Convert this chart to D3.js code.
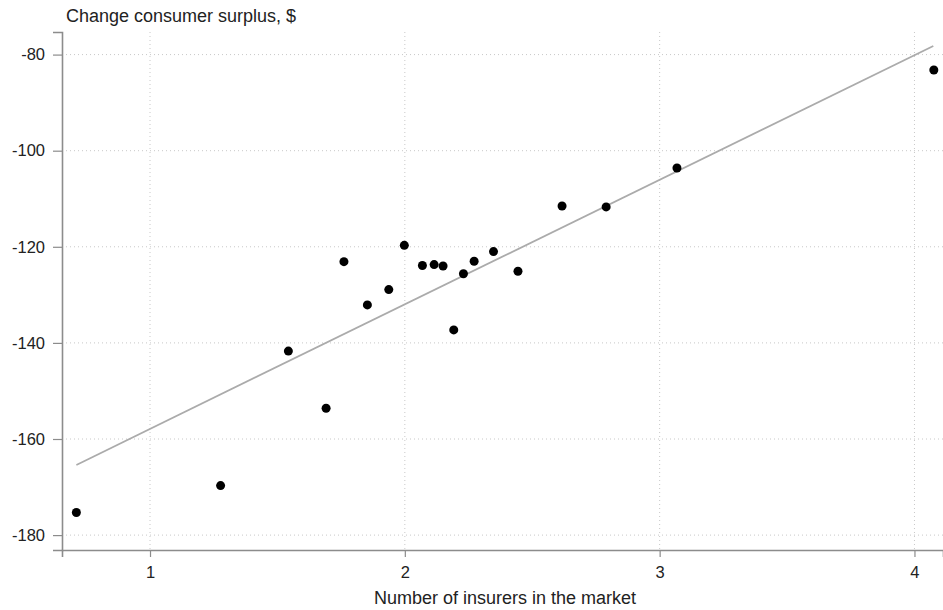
<!DOCTYPE html>
<html><head><meta charset="utf-8">
<script src="https://cdn.jsdelivr.net/npm/d3@7"></script>
<style>
body{margin:0;background:#fff;}
text{font-family:"Liberation Sans",Arial,sans-serif;fill:#222;}
</style></head>
<body><svg id="chart" width="943" height="610"></svg>
<script>
// Data
const insurers = [0.711, 1.277, 1.543, 1.691, 1.761, 1.853, 1.937, 1.998, 2.069, 2.115, 2.150, 2.192, 2.230, 2.272, 2.348, 2.444, 2.617, 2.790, 3.068, 4.076];
const surplus  = [-175.3, -169.7, -141.7, -153.6, -123.1, -132.1, -128.9, -119.7, -123.9, -123.7, -124.0, -137.3, -125.6, -123.0, -121.0, -125.1, -111.5, -111.7, -103.6, -83.2];
const fitX = [0.711, 4.074];
const fitY = [-165.4, -78.2];
const xTicks = [1, 2, 3, 4];
const yTicks = [-80, -100, -120, -140, -160, -180];
const yTitle = "Change consumer surplus, $";
const xTitle = "Number of insurers in the market";

(function () {
const svg = d3.select("#chart");
const mLeft = 62, mRight = 943, mTop = 32, mBottom = 550;
const x = d3.scaleLinear().domain([0.6546, 4.112]).range([mLeft, mRight]);
const y = d3.scaleLinear().domain([-183.1, -75.3]).range([mBottom, mTop]);

// grid
const g = svg.append("g");
g.selectAll("line.hg").data(yTicks).join("line")
  .attr("x1", mLeft).attr("x2", mRight)
  .attr("y1", d => y(d)).attr("y2", d => y(d))
  .attr("stroke", "#c8c8c8").attr("stroke-width", 1).attr("stroke-dasharray", "1,3");
g.selectAll("line.vg").data(xTicks).join("line")
  .attr("y1", mTop).attr("y2", mBottom)
  .attr("x1", d => x(d)).attr("x2", d => x(d))
  .attr("stroke", "#c8c8c8").attr("stroke-width", 1).attr("stroke-dasharray", "1,3");

// axes
const xAxis = svg.append("g").attr("transform", `translate(0,${mBottom})`)
  .call(d3.axisBottom(x).tickValues(xTicks).tickFormat(d3.format("d")).tickSizeOuter(0).tickSize(7).tickPadding(9));
const yAxis = svg.append("g").attr("transform", `translate(${mLeft},0)`)
  .call(d3.axisLeft(y).tickValues(yTicks).tickFormat(d => String(d)).tickSizeOuter(0).tickSize(9).tickPadding(8));
[xAxis, yAxis].forEach(a => {
  a.select(".domain").attr("stroke", "#8c8c8c").attr("stroke-width", 1.6);
  a.selectAll(".tick line").attr("stroke", "#8c8c8c").attr("stroke-width", 1.2);
  a.selectAll(".tick text").attr("font-size", 16.5).attr("font-family", "Liberation Sans, Arial, sans-serif").attr("fill", "#222");
});

// fit line
svg.append("path")
  .datum(fitX.map((d, i) => [d, fitY[i]]))
  .attr("d", d3.line().x(d => x(d[0])).y(d => y(d[1])))
  .attr("fill", "none").attr("stroke", "#ababab").attr("stroke-width", 1.8);

// points
svg.append("g").selectAll("circle").data(insurers.map((d, i) => [d, surplus[i]])).join("circle")
  .attr("cx", d => x(d[0])).attr("cy", d => y(d[1])).attr("r", 4.5).attr("fill", "#000");

// titles
svg.append("text").attr("x", 66).attr("y", 22).attr("font-size", 18).text(yTitle);
svg.append("text").attr("x", 505).attr("y", 604).attr("text-anchor", "middle").attr("font-size", 18).text(xTitle);
})();
</script></body></html>
